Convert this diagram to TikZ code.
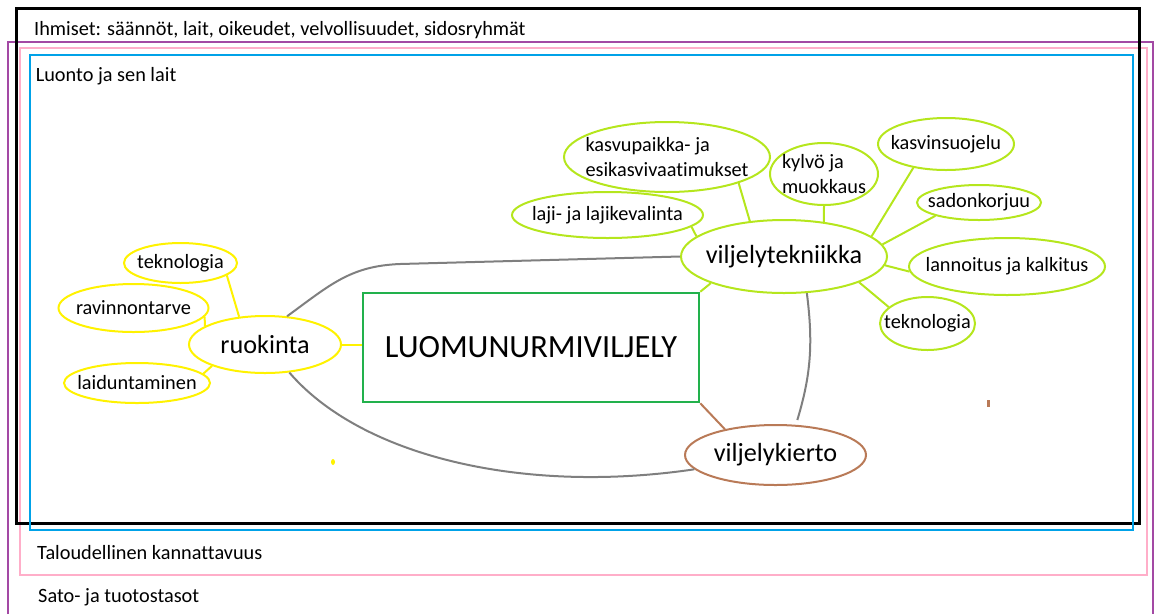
\documentclass[tikz,border=0pt]{standalone}
\usepackage{fontspec}
\setmainfont[Ligatures=NoCommon]{Carlito}
\usetikzlibrary{shapes.geometric}

\definecolor{paintyellow}{HTML}{FFF200}
\definecolor{paintlime}{HTML}{B5E61D}
\definecolor{paintgreen}{HTML}{22B14C}
\definecolor{paintbrown}{HTML}{B97A57}
\definecolor{paintgray}{HTML}{7F7F7F}
\definecolor{paintpurple}{HTML}{A349A4}
\definecolor{paintpink}{HTML}{FFAEC9}
\definecolor{paintblue}{HTML}{00A2E8}

\begin{document}
\begin{tikzpicture}[x=1pt,y=-1pt,
	kupla/.style={ellipse,draw,line width=2pt,inner sep=0pt},
	pieni/.style={font=\fontsize{20.3}{25}\selectfont,align=left},
	keski/.style={font=\fontsize{26.2}{31}\selectfont},
	otsikko/.style={font=\fontsize{20.3}{25}\selectfont,anchor=base west,inner sep=0pt},
	viiva/.style={line width=2pt}]
	\useasboundingbox (0,0) rectangle (1155,614);

	% draw the frames
	\draw[paintpurple,line width=2pt] (8,614)--(8,42)--(1153,42)--(1153,614);
	\draw[paintpink,line width=2pt] (20,48) rectangle (1147,575);
	\draw[black,line width=3pt] (16,8) rectangle (1139,523);
	\draw[paintblue,line width=2pt] (30,55) rectangle (1133,530);

	% label the frames
	\node[otsikko] (ihmiset) at (34,35.7) {Ihmiset: säännöt, lait, oikeudet, velvollisuudet, sidosryhmät};
	\node[otsikko] (luonto) at (35.6,81) {Luonto ja sen lait};
	\node[otsikko] (talous) at (37,559) {Taloudellinen kannattavuus};
	\node[otsikko] (sato) at (38,602) {Sato- ja tuotostasot};

	% the main box
	\node[draw=paintgreen,line width=2.5pt,minimum width=336,minimum height=109,inner sep=0pt,
		font=\fontsize{32.4}{38}\selectfont] (luomu) at (531,347.5) {LUOMUNURMIVILJELY};

	% feeding on the left
	\node[kupla,draw=paintyellow,minimum width=152,minimum height=57,label={[keski]center:ruokinta}] (ruokinta) at (265,344.5) {};
	\node[kupla,draw=paintyellow,minimum width=113,minimum height=40,label={[pieni]center:teknologia}] (tekno1) at (180.5,263) {};
	\node[kupla,draw=paintyellow,minimum width=150,minimum height=48,label={[pieni]center:ravinnontarve}] (ravinto) at (133.5,308) {};
	\node[kupla,draw=paintyellow,minimum width=146,minimum height=40,label={[pieni]center:laiduntaminen}] (laidun) at (137,383) {};

	\draw[paintyellow,viiva] (tekno1.-15) -- (ruokinta.133);
	\draw[paintyellow,viiva] (ravinto.-7) -- (ruokinta.163);
	\draw[paintyellow,viiva] (laidun.8) -- (ruokinta.202);
	\draw[paintyellow,viiva] (ruokinta.east) -- (ruokinta.east -| luomu.west);

	% cultivation technique on the right
	\node[kupla,draw=paintlime,minimum width=206,minimum height=73,label={[keski]center:viljelytekniikka}] (vilj) at (784,256.5) {};
	\node[kupla,draw=paintlime,minimum width=206,minimum height=70,label={[pieni]center:kasvupaikka- ja\\esikasvivaatimukset}] (kasvu) at (667,157) {};
	\node[kupla,draw=paintlime,minimum width=191,minimum height=46,label={[pieni]center:laji- ja lajikevalinta}] (laji) at (607.5,215) {};
	\node[kupla,draw=paintlime,minimum width=108,minimum height=62,label={[pieni]center:kylvö ja\\muokkaus}] (kylvo) at (824,174) {};
	\node[kupla,draw=paintlime,minimum width=136,minimum height=52,label={[pieni]center:kasvinsuojelu}] (suojelu) at (946,144) {};
	\node[kupla,draw=paintlime,minimum width=124,minimum height=35,label={[pieni]center:sadonkorjuu}] (sadon) at (979,202.5) {};
	\node[kupla,draw=paintlime,minimum width=196,minimum height=57,label={[pieni]center:lannoitus ja kalkitus}] (lannoitus) at (1007,266.5) {};
	\node[kupla,draw=paintlime,minimum width=95,minimum height=53,label={[pieni]center:teknologia}] (tekno2) at (927.5,323.5) {};

	\draw[paintlime,viiva] (laji.-8) -- (vilj.167);
	\draw[paintlime,viiva] (kasvu.-20) -- (vilj.134);
	\draw[paintlime,viiva] (kylvo.-90) -- (vilj.41);
	\draw[paintlime,viiva] (suojelu.216) -- (vilj.13);
	\draw[paintlime,viiva] (sadon.197) -- (vilj.7);
	\draw[paintlime,viiva] (lannoitus.183) -- (vilj.-5);
	\draw[paintlime,viiva] (tekno2.157) -- (vilj.-19);
	\draw[paintlime,viiva] (vilj.200) -- (luomu.north east);

	% crop rotation below
	\node[kupla,draw=paintbrown,minimum width=181,minimum height=60,label={[keski]center:viljelykierto}] (kierto) at (775.5,455) {};
	\draw[paintbrown,viiva] (luomu.south east) -- (kierto.153);

	% grey links between the groups
	\draw[paintgray,viiva] (ruokinta.52) .. controls (330,285) and (350,266) .. (400,264) -- (vilj.west);
	\draw[paintgray,viiva] (ruokinta.-49) .. controls (360,455) and (520,495) .. (kierto.190);
	\draw[paintgray,viiva,shorten >=5pt] (vilj.-58) to[bend left=12] (kierto.56);

	% stray marks
	\fill[paintyellow] (333,462) ellipse (2 and 3);
	\fill[paintbrown] (987,400) rectangle (990,407);
\end{tikzpicture}
\end{document}
